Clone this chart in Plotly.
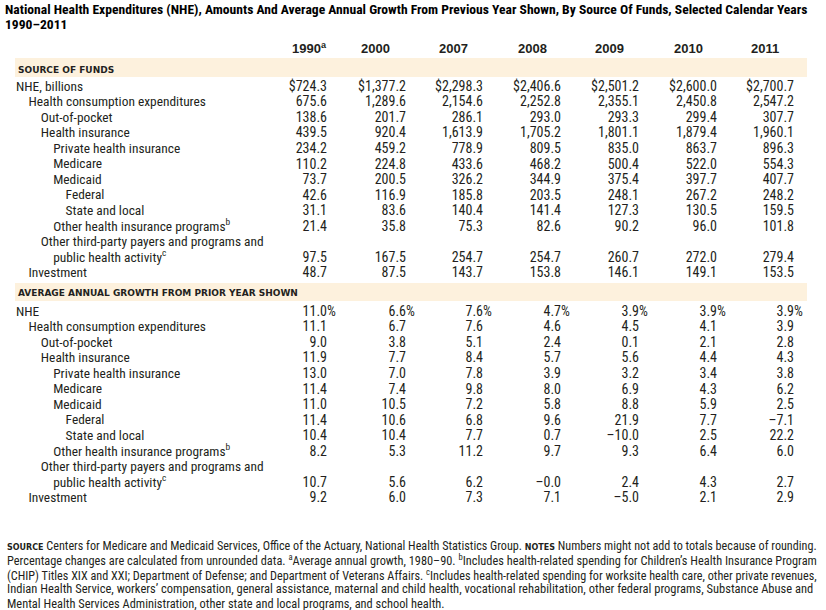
import plotly.graph_objects as go

# ---------------- text content ----------------
TITLE_LINE1 = ("National Health Expenditures (NHE), Amounts And Average Annual Growth From "
               "Previous Year Shown, By Source Of Funds, Selected Calendar Years")
TITLE_LINE2 = "1990–2011"
SECTION_AMOUNTS = "SOURCE OF FUNDS"
SECTION_GROWTH = "AVERAGE ANNUAL GROWTH FROM PRIOR YEAR SHOWN"

years = ["1990", "2000", "2007", "2008", "2009", "2010", "2011"]
year_notes = ["a", "", "", "", "", "", ""]

amount_labels = ["NHE, billions", "Health consumption expenditures", "Out-of-pocket",
                 "Health insurance", "Private health insurance", "Medicare", "Medicaid",
                 "Federal", "State and local", "Other health insurance programs<sup>b</sup>",
                 "Other third-party payers and programs and<br>public health activity<sup>c</sup>",
                 "Investment"]
growth_labels = ["NHE"] + amount_labels[1:]
label_levels = [0, 1, 2, 2, 3, 3, 3, 4, 4, 3, 2, 1]

amounts_1990 = [724.3, 675.6, 138.6, 439.5, 234.2, 110.2, 73.7, 42.6, 31.1, 21.4, 97.5, 48.7]
amounts_2000 = [1377.2, 1289.6, 201.7, 920.4, 459.2, 224.8, 200.5, 116.9, 83.6, 35.8, 167.5, 87.5]
amounts_2007 = [2298.3, 2154.6, 286.1, 1613.9, 778.9, 433.6, 326.2, 185.8, 140.4, 75.3, 254.7, 143.7]
amounts_2008 = [2406.6, 2252.8, 293.0, 1705.2, 809.5, 468.2, 344.9, 203.5, 141.4, 82.6, 254.7, 153.8]
amounts_2009 = [2501.2, 2355.1, 293.3, 1801.1, 835.0, 500.4, 375.4, 248.1, 127.3, 90.2, 260.7, 146.1]
amounts_2010 = [2600.0, 2450.8, 299.4, 1879.4, 863.7, 522.0, 397.7, 267.2, 130.5, 96.0, 272.0, 149.1]
amounts_2011 = [2700.7, 2547.2, 307.7, 1960.1, 896.3, 554.3, 407.7, 248.2, 159.5, 101.8, 279.4, 153.5]

growth_1990 = [11.0, 11.1, 9.0, 11.9, 13.0, 11.4, 11.0, 11.4, 10.4, 8.2, 10.7, 9.2]
growth_2000 = [6.6, 6.7, 3.8, 7.7, 7.0, 7.4, 10.5, 10.6, 10.4, 5.3, 5.6, 6.0]
growth_2007 = [7.6, 7.6, 5.1, 8.4, 7.8, 9.8, 7.2, 6.8, 7.7, 11.2, 6.2, 7.3]
growth_2008 = [4.7, 4.6, 2.4, 5.7, 3.9, 8.0, 5.8, 9.6, 0.7, 9.7, -0.0, 7.1]
growth_2009 = [3.9, 4.5, 0.1, 5.6, 3.2, 6.9, 8.8, 21.9, -10.0, 9.3, 2.4, -5.0]
growth_2010 = [3.9, 4.1, 2.1, 4.4, 3.4, 4.3, 5.9, 7.7, 2.5, 6.4, 4.3, 2.1]
growth_2011 = [3.9, 3.9, 2.8, 4.3, 3.8, 6.2, 2.5, -7.1, 22.2, 6.0, 2.7, 2.9]

SMALLCAPS = "<b><span style='font-family:DejaVu Sans;font-size:8px'>{}</span></b>"
footnote_lines = [
    SMALLCAPS.format("SOURCE") + " Centers for Medicare and Medicaid Services, "
    "Office of the Actuary, National Health Statistics Group. " + SMALLCAPS.format("NOTES") +
    " Numbers might not add to totals because of rounding.",
    "Percentage changes are calculated from unrounded data. <sup>a</sup>Average annual growth, 1980–90. "
    "<sup>b</sup>Includes health-related spending for Children’s Health Insurance Program",
    "(CHIP) Titles XIX and XXI; Department of Defense; and Department of Veterans Affairs. "
    "<sup>c</sup>Includes health-related spending for worksite health care, other private revenues,",
    "Indian Health Service, workers’ compensation, general assistance, maternal and child health, "
    "vocational rehabilitation, other federal programs, Substance Abuse and",
    "Mental Health Services Administration, other state and local programs, and school health.",
]

amount_columns = [amounts_1990, amounts_2000, amounts_2007, amounts_2008,
                  amounts_2009, amounts_2010, amounts_2011]
growth_columns = [growth_1990, growth_2000, growth_2007, growth_2008,
                  growth_2009, growth_2010, growth_2011]

# ---------------- layout constants (window pixels) ----------------
W, H = 826, 610
TEXT = "#231F20"
BAND = "#FDF1DD"
BODY_FONT = "Roboto Condensed, Roboto, sans-serif"
HEAD_FONT = "DejaVu Sans, sans-serif"
LABEL_SIZE = 13.4
VALUE_SIZE = 14.0
FOOT_SIZES = [12.15, 12.35, 12.2, 12.5, 12.4]   # per line, approximating the justified block
LABEL_X = 16
INDENT = 12.4
COL_RIGHT = [327, 406, 483, 561, 639, 717, 794]
HEADER_X = [290, 359, 437, 516, 593, 672, 749]
HEADER_Y = 48
BAND_X0, BAND_X1 = 15, 807
ROW_STEP = 15.55
SECTIONS = [
    dict(band=(58, 77), head_y=70, y0=87.3, title=SECTION_AMOUNTS, labels=amount_labels,
         cols=amount_columns, kind="amount"),
    dict(band=(283, 301), head_y=293, y0=312.3, title=SECTION_GROWTH, labels=growth_labels,
         cols=growth_columns, kind="growth"),
]
VALUE_LINE = [0, 1, 2, 3, 4, 5, 6, 7, 8, 9, 11, 12]


def fmt_amount(v, i):
    s = f"{v:,.1f}"
    return ("$" + s) if i == 0 else s


def fmt_growth(v):
    return f"{v:.1f}".replace("-", "–")


fig = go.Figure()
shapes = []
annotations = []

for j, yr in enumerate(years):
    txt = yr + (f"<sup>{year_notes[j]}</sup>" if year_notes[j] else "")
    annotations.append(dict(x=HEADER_X[j], y=HEADER_Y, xref="x", yref="y", text=txt,
                            showarrow=False, xanchor="left", yanchor="middle",
                            font=dict(family="Liberation Sans, Arial, sans-serif", size=13,
                                      color=TEXT, weight="bold")))

for sec in SECTIONS:
    b0, b1 = sec["band"]
    shapes.append(dict(type="rect", xref="x", yref="y", x0=BAND_X0, x1=BAND_X1, y0=b0, y1=b1,
                       fillcolor=BAND, line=dict(width=0), layer="below"))
    annotations.append(dict(x=LABEL_X, y=sec["head_y"], xref="x", yref="y", text=sec["title"],
                            showarrow=False, xanchor="left", yanchor="middle",
                            font=dict(family=HEAD_FONT, size=9, color=TEXT, weight="bold")))
    y0 = sec["y0"]
    lx, ly, lt = [], [], []
    for i, lab in enumerate(sec["labels"]):
        parts = lab.split("<br>")
        if len(parts) == 2:
            lx += [LABEL_X + label_levels[i] * INDENT, LABEL_X + (label_levels[i] + 1) * INDENT]
            ly += [y0 + (VALUE_LINE[i] - 1) * ROW_STEP, y0 + VALUE_LINE[i] * ROW_STEP]
            lt += parts
        else:
            lx.append(LABEL_X + label_levels[i] * INDENT)
            ly.append(y0 + VALUE_LINE[i] * ROW_STEP)
            lt.append(lab)
    fig.add_trace(go.Scatter(x=lx, y=ly, text=lt, mode="text", textposition="middle right",
                             textfont=dict(family=BODY_FONT, size=LABEL_SIZE, color=TEXT),
                             hoverinfo="skip", showlegend=False))
    for j, col in enumerate(sec["cols"]):
        if sec["kind"] == "amount":
            txt = [fmt_amount(v, i) for i, v in enumerate(col)]
        else:
            txt = [fmt_growth(v) for v in col]
        fig.add_trace(go.Scatter(x=[COL_RIGHT[j]] * len(col),
                                 y=[y0 + VALUE_LINE[i] * ROW_STEP for i in range(len(col))],
                                 text=txt, mode="text", textposition="middle left",
                                 textfont=dict(family=BODY_FONT, size=VALUE_SIZE, color=TEXT),
                                 hoverinfo="skip", showlegend=False))
    if sec["kind"] == "growth":
        fig.add_trace(go.Scatter(x=COL_RIGHT, y=[y0] * len(COL_RIGHT), text=["%"] * len(COL_RIGHT),
                                 mode="text", textposition="middle right",
                                 textfont=dict(family=BODY_FONT, size=VALUE_SIZE, color=TEXT),
                                 hoverinfo="skip", showlegend=False))

for k, t in enumerate([TITLE_LINE1, TITLE_LINE2]):
    annotations.append(dict(x=3, y=8.5 + k * 15.5, xref="x", yref="y", text=t, showarrow=False,
                            xanchor="left", yanchor="middle",
                            font=dict(family=BODY_FONT, size=13.6, color="#000000", weight="bold")))

for k, t in enumerate(footnote_lines):
    annotations.append(dict(x=5, y=546 + k * 14.3, xref="x", yref="y", text=t, showarrow=False,
                            xanchor="left", yanchor="middle",
                            font=dict(family=BODY_FONT, size=FOOT_SIZES[k], color=TEXT)))

fig.update_layout(
    width=W, height=H, margin=dict(l=0, r=0, t=0, b=0),
    paper_bgcolor="white", plot_bgcolor="white",
    xaxis=dict(range=[0, W], visible=False, fixedrange=True),
    yaxis=dict(range=[H, 0], visible=False, fixedrange=True),
    shapes=shapes, annotations=annotations, showlegend=False,
)

# remove the page's default 8px body margin so the figure sits at the window's corner
fig.write_html("out.html", config={"displayModeBar": False},
               post_script="document.body.style.margin='0';")
